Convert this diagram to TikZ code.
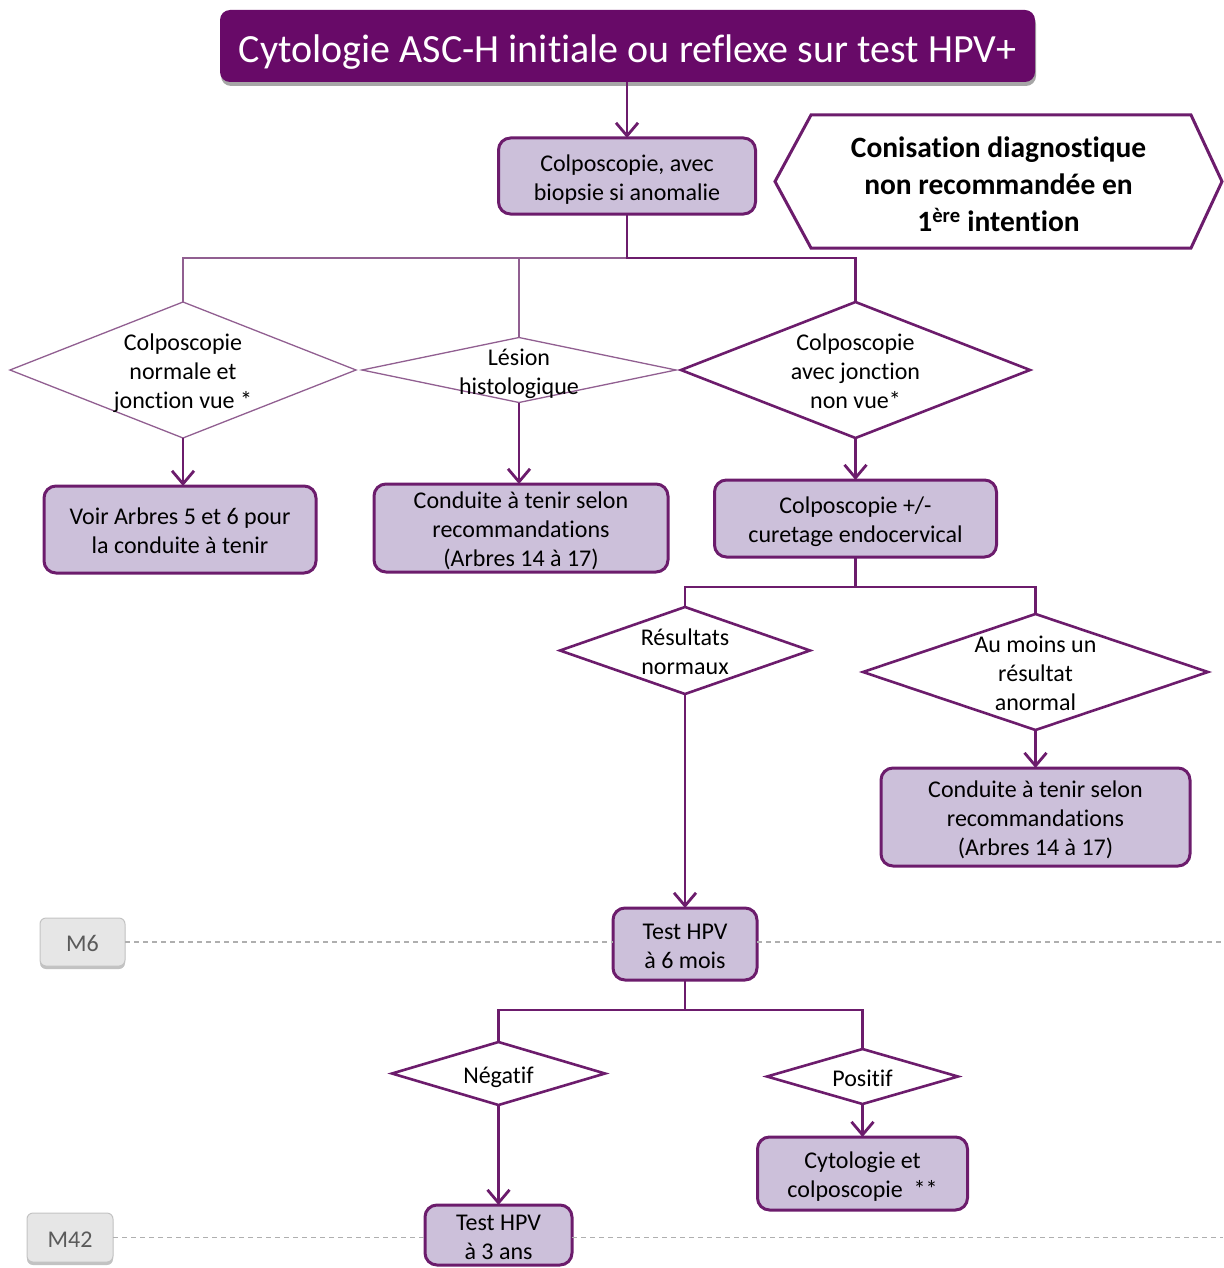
\documentclass[tikz,border=0pt]{standalone}
\usepackage{fontspec}
\setmainfont{Carlito}[Ligatures=NoCommon]
\usetikzlibrary{arrows.meta,shapes.geometric,shadows,calc}
\definecolor{pdark}{RGB}{104,10,104}
\definecolor{pline}{RGB}{108,28,108}
\definecolor{pthin}{RGB}{145,95,145}
\definecolor{plav}{RGB}{204,192,218}
\definecolor{mgray}{RGB}{230,230,230}
\definecolor{mborder}{RGB}{195,195,195}
\definecolor{mtext}{RGB}{90,90,90}
\definecolor{dgray}{RGB}{175,175,175}
\newcommand{\zt}[1]{\makebox[0pt]{\raisebox{\dimexpr-0.25em-4pt\relax}[0pt][0pt]{\begin{tabular}{@{}c@{}}#1\end{tabular}}}}
\tikzset{
  base/.style={inner sep=0pt, outer sep=0pt, font=\fontsize{24}{29}\selectfont},
  pbox/.style={base, draw=pline, line width=3pt, fill=plav, rounded corners=12pt},
  tbox/.style={base, fill=pdark, rounded corners=10pt, text=white, font=\fontsize{40}{46}\selectfont,
     drop shadow={shadow xshift=1pt, shadow yshift=-4pt, fill=black, opacity=0.35}},
  pdia/.style={base, shape=diamond, draw=pline, line width=2.6pt, fill=white},
  tdia/.style={base, shape=diamond, draw=pthin, line width=1.3pt, fill=white},
  mlab/.style={base, draw=mborder, fill=mgray, rounded corners=6pt, line width=1pt, text=mtext,
     font=\fontsize{24}{29}\selectfont,
     drop shadow={shadow xshift=0pt, shadow yshift=-3pt, fill=gray!80, opacity=0.6}},
  arr/.style={draw=pline, line width=2.8pt, -{Straight Barb[length=13pt,width=22pt]}},
  thk/.style={draw=pline, line width=2.8pt},
  thn/.style={draw=pthin, line width=1.3pt},
  tline/.style={draw=dgray, line width=1.2pt, dash pattern=on 5pt off 4pt},
}
\begin{document}
\begin{tikzpicture}[x=1pt,y=-1pt]
\useasboundingbox (0,0) rectangle (1223,1268);

\node[tbox, minimum width=815pt, minimum height=72pt] (title) at (627.5,46) {\zt{Cytologie ASC-H initiale ou reflexe sur test HPV+}};
\node[pbox, minimum width=257pt, minimum height=76pt] (colpo) at (627,176) {\zt{Colposcopie, avec\\biopsie si anomalie}};
\node[base, minimum width=447pt, minimum height=133pt, font=\fontsize{29.5}{37}\selectfont\bfseries] (hex) at (998.5,181.5) {\zt{Conisation diagnostique\\non recommandée en\\1\textsuperscript{ère} intention}};
\draw[pline, line width=3pt, line join=miter] (hex.west) -- ($(hex.north west)+(36,0)$) -- ($(hex.north east)+(-31,0)$) -- (hex.east) -- ($(hex.south east)+(-31,0)$) -- ($(hex.south west)+(36,0)$) -- cycle;

\node[tdia, minimum width=346pt, minimum height=136pt] (d1) at (183,370) {\zt{Colposcopie\\normale et\\jonction vue *}};
\node[tdia, minimum width=314pt, minimum height=65pt] (d2) at (519,370) {\zt{Lésion\\histologique}};
\node[pdia, minimum width=349pt, minimum height=136pt] (d3) at (855.5,370) {\zt{Colposcopie\\avec jonction\\non vue*}};

\node[pbox, minimum width=272pt, minimum height=87pt] (voir) at (180,529.5) {\zt{Voir Arbres 5 et 6 pour\\la conduite à tenir}};
\node[pbox, minimum width=294pt, minimum height=88pt] (cond1) at (521,528) {\zt{Conduite à tenir selon\\recommandations\\(Arbres 14 à 17)}};
\node[pbox, minimum width=282pt, minimum height=77pt] (curet) at (855.5,518.5) {\zt{Colposcopie +/-\\curetage endocervical}};

\node[pdia, minimum width=250pt, minimum height=87pt] (d4) at (685,650.5) {\zt{Résultats\\normaux}};
\node[pdia, minimum width=345pt, minimum height=116pt] (d5) at (1035.5,672) {\zt{Au moins un\\résultat\\anormal}};
\node[pbox, minimum width=309pt, minimum height=98pt] (cond2) at (1035.5,817) {\zt{Conduite à tenir selon\\recommandations\\(Arbres 14 à 17)}};

\node[pbox, minimum width=144pt, minimum height=72pt] (hpv6) at (685,944) {\zt{Test HPV\\à 6 mois}};
\node[mlab, minimum width=85pt, minimum height=48pt] (m6) at (82.5,942) {\zt{M6}};

\node[pdia, minimum width=213pt, minimum height=63pt] (d6) at (498.5,1073.5) {\zt{Négatif}};
\node[pdia, minimum width=191pt, minimum height=55pt] (d7) at (862.5,1076.5) {\zt{Positif}};
\node[pbox, minimum width=210pt, minimum height=73pt] (cyto) at (862.5,1173.5) {\zt{Cytologie et\\colposcopie~~**}};
\node[pbox, minimum width=147pt, minimum height=60pt] (hpv3) at (498.5,1235) {\zt{Test HPV\\à 3 ans}};
\node[mlab, minimum width=86pt, minimum height=49pt] (m42) at (70,1237.5) {\zt{M42}};

\coordinate (j1) at (627,258);
\coordinate (j2) at (855.5,587);
\coordinate (j3) at (685,1010);
\coordinate (rend) at (1223,0);

% connectors
\draw[arr] (title.south -| colpo.north) -- (colpo.north);
\draw[thn] (j1) -| (d1.north);
\draw[thn] (j1 -| d2.north) -- (d2.north);
\draw[thk] (colpo.south) -- (j1) -| (d3.north);
\draw[arr] (d1.south) -- (d1.south |- voir.north);
\draw[arr] (d2.south) -- (d2.south |- cond1.north);
\draw[arr] (d3.south) -- (curet.north);
\draw[thk] (curet.south) -- (j2) -| (d4.north);
\draw[thk] (j2) -| (d5.north);
\draw[arr] (d5.south) -- (cond2.north);
\draw[arr] (d4.south) -- (hpv6.north);
\draw[thk] (hpv6.south) -- (j3) -| (d6.north);
\draw[thk] (j3) -| (d7.north);
\draw[arr] (d7.south) -- (cyto.north);
\draw[arr] (d6.south) -- (hpv3.north);

% timeline
\draw[tline] (m6.east) -- (m6.east -| hpv6.west);
\draw[tline] (m6.east -| hpv6.east) -- (m6.east -| rend);
\draw[tline] (m42.east) -- (m42.east -| hpv3.west);
\draw[tline] (m42.east -| hpv3.east) -- (m42.east -| rend);
\end{tikzpicture}
\end{document}
